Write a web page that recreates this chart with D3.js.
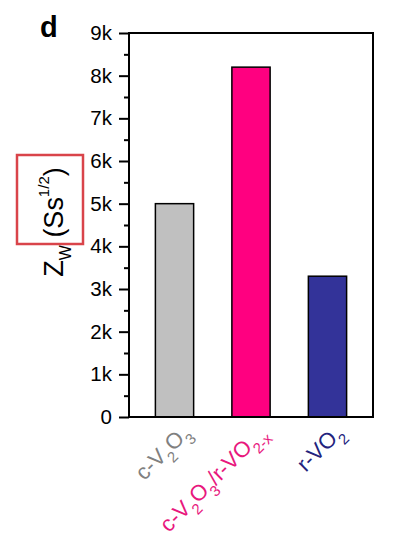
<!DOCTYPE html>
<html><head><meta charset="utf-8">
<script src="https://cdn.jsdelivr.net/npm/d3@7"></script>
<style>body{margin:0;background:#fff}svg{display:block;font-family:"Liberation Sans",Arial,sans-serif}</style>
</head><body>
<svg id="c" width="420" height="540"></svg>
<script>
const categories = ["c-V2O3", "c-V2O3/r-VO2-x", "r-VO2"];
const values = [5000, 8200, 3300];
const barColors = ["#c0c0c0", "#ff0080", "#333399"];
const labelColors = ["#808080", "#e8177d", "#23237d"];
const labelParts = [
  [["c-V", 0], ["2", 1], ["O", 0], ["3", 1]],
  [["c-V", 0], ["2", 1], ["O", 0], ["3", 1], ["/r-VO", 0], ["2-x", 1]],
  [["r-VO", 0], ["2", 1]]
];
const majorTicks = [0, 1000, 2000, 3000, 4000, 5000, 6000, 7000, 8000, 9000];
const majorLabels = ["0", "1k", "2k", "3k", "4k", "5k", "6k", "7k", "8k", "9k"];
const minorTicks = [500, 1500, 2500, 3500, 4500, 5500, 6500, 7500, 8500];

const svg = d3.select("#c");
const L = 129, R = 373, T = 33, B = 417;
const x = d3.scaleBand().domain(categories).range([L, R]).paddingInner(0.5).paddingOuter(0.345);
const y = d3.scaleLinear().domain([0, 9000]).range([B, T]);

// bars
svg.selectAll("rect.bar").data(categories).enter().append("rect")
  .attr("class", "bar")
  .attr("x", d => x(d)).attr("width", x.bandwidth())
  .attr("y", (d, i) => y(values[i])).attr("height", (d, i) => y(0) - y(values[i]))
  .attr("fill", (d, i) => barColors[i]).attr("stroke", "#000").attr("stroke-width", 1.5);

// minor ticks
const minorAxis = svg.append("g").attr("transform", `translate(${L},0)`)
  .call(d3.axisLeft(y).tickValues(minorTicks).tickSize(5).tickFormat(""));
minorAxis.select(".domain").remove();
minorAxis.selectAll("line").attr("stroke-width", 2);

// major axis
const yAxis = svg.append("g").attr("transform", `translate(${L},0)`)
  .call(d3.axisLeft(y).tickValues(majorTicks).tickSize(10).tickPadding(7)
    .tickFormat((d, i) => majorLabels[i]));
yAxis.select(".domain").remove();
yAxis.selectAll("line").attr("stroke-width", 2);
yAxis.selectAll("text").attr("font-size", 20.5).attr("fill", "#000")
  .style("font-family", '"Liberation Sans",Arial,sans-serif');

// frame
svg.append("rect").attr("x", L).attr("y", T).attr("width", R - L).attr("height", B - T)
  .attr("fill", "none").attr("stroke", "#000").attr("stroke-width", 2);

// x labels
categories.forEach((c, i) => {
  const cx = x(c) + x.bandwidth() / 2;
  const t = svg.append("text")
    .attr("transform", `translate(${cx + 17},${B + 17}) rotate(-45)`)
    .attr("text-anchor", "end").attr("fill", labelColors[i]).attr("font-size", 22);
  let shifted = false;
  labelParts[i].forEach(([s, sub]) => {
    const ts = t.append("tspan").text(s);
    if (sub && !shifted) { ts.attr("dy", 8).attr("font-size", 15); shifted = true; }
    else if (sub) { ts.attr("font-size", 15); }
    else if (!sub && shifted) { ts.attr("dy", -8); shifted = false; }
  });
});

// y title
const yt = svg.append("text").attr("transform", "translate(63,222) rotate(-90)")
  .attr("text-anchor", "middle").attr("font-size", 27).attr("fill", "#000");
yt.append("tspan").text("Z");
yt.append("tspan").text("W").attr("font-size", 16).attr("dy", 8);
yt.append("tspan").text(" (Ss").attr("dy", -8);
yt.append("tspan").text("1/2").attr("font-size", 15).attr("dy", -14);
yt.append("tspan").text(")").attr("dy", 14);

// red annotation box
svg.append("rect").attr("x", 17).attr("y", 155).attr("width", 66).attr("height", 89)
  .attr("fill", "none").attr("stroke", "#d9444a").attr("stroke-width", 2.5);

// panel letter
svg.append("text").attr("x", 40).attr("y", 37).attr("font-size", 29).attr("font-weight", "bold").text("d");
</script>
</body></html>
